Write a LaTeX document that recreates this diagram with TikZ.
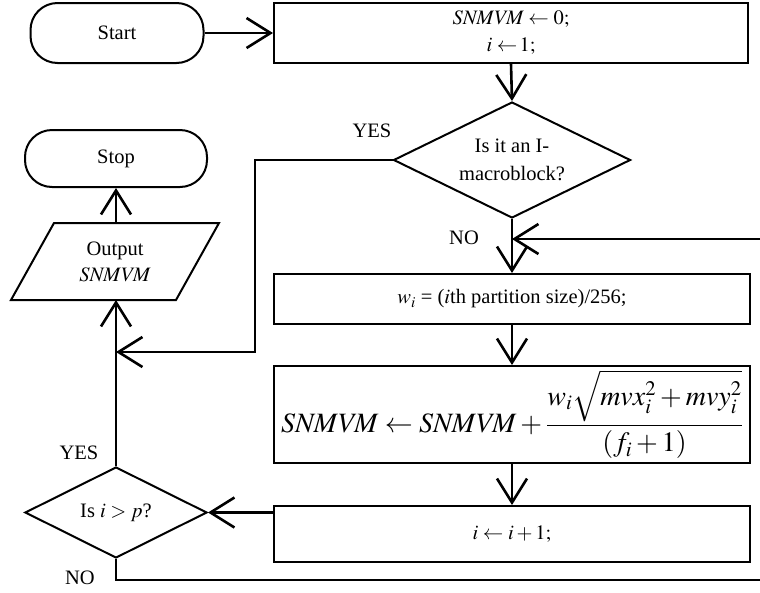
\documentclass[tikz,border=0pt]{standalone}
\usepackage{mathptmx}
\usepackage[no-math]{fontspec}
\setmainfont{Liberation Serif}
\usetikzlibrary{arrows.meta,shapes.geometric}

\newcommand{\snm}{\mathit{SNMVM}}

\tikzset{
  base/.style={draw, line width=2pt, font=\fontsize{20.5}{26}\selectfont, align=center, inner sep=0pt},
  term/.style={base, rectangle, rounded corners=27pt},
  proc/.style={base, rectangle},
  dec/.style={base, diamond},
  iobox/.style={base, draw=none, rectangle},
  ioedge/.style={line width=2pt, line join=miter},
  flow/.style={line width=2.6pt, -{Straight Barb[length=24pt,width=30pt]}},
  tag/.style={font=\fontsize{20.5}{28}\selectfont, align=center, inner sep=0pt}
}

\begin{document}
\begin{tikzpicture}[x=1pt, y=-1pt]
\useasboundingbox (0,0) rectangle (760,592);
\clip (0,0) rectangle (760,592);

% terminals
\node[term, minimum width=173pt, minimum height=60pt] (start) at (117,33) {Start};
\node[term, minimum width=182pt, minimum height=57pt] (stop) at (116,158.5) {Stop};

% initialisation
\node[proc, minimum width=474pt, minimum height=60pt] (init) at (511,33)
  {$\snm \leftarrow 0;$\\[1pt]$i \leftarrow\! 1;$};

% I-macroblock test
\node[dec, minimum width=237pt, minimum height=116pt] (isI) at (512,160) {};
\node[tag] (isItext) at (isI) {Is it an I-\\macroblock?};

% output (parallelogram drawn on the node's box, sides slanted by 43pt)
\node[iobox, minimum width=206pt, minimum height=75pt] (out) at (115,261.5)
  {Output\\$\snm$};
\draw[ioedge] (out.south west) -- ([xshift=43pt]out.north west) -- (out.north east)
  -- ([xshift=-43pt]out.south east) -- cycle;

% processing steps
\node[proc, minimum width=476pt, minimum height=50pt] (wbox) at (512,299)
  {$w_i$ = ($i$th partition size)/256;};
\node[proc, minimum width=476pt, minimum height=97pt, font=\fontsize{28}{32}\selectfont] (sbox) at (512,414.5)
  {$\snm \leftarrow \snm + \displaystyle\frac{w_i\sqrt{mvx_i^2+mvy_i^2}}{(f_i+1)}$};
\node[proc, minimum width=476pt, minimum height=56pt] (ibox) at (512,534)
  {$i \leftarrow i+1;$};

% loop test
\node[dec, minimum width=182pt, minimum height=91pt] (gtp) at (116,512.5) {};
\node[tag] (gtptext) at (gtp) {Is $i>p$?};

% routing points
\coordinate (yesbend) at (255,160);
\coordinate (join) at (116,352);
\coordinate (nobottom) at (116,580);
\coordinate (offright) at (775,580);
\coordinate (offtop) at (775,239);
\coordinate (merge) at (512,239);

% connectors
\draw[flow] (start.east) -- (init.west);
\draw[flow] (init.south) -- (isI.north);
\draw[flow] (isI.west) -- (yesbend) -- (yesbend |- join) -- (join);
\draw[flow] (out.north -| stop.south) -- (stop.south);
\draw[flow] (gtp.north) -- (gtp.north |- out.south);
\draw[flow] (isI.south) -- (wbox.north);
\draw[flow] (wbox.south) -- (sbox.north);
\draw[flow] (sbox.south) -- (ibox.north);
\draw[flow] (ibox.west |- gtp.east) -- (gtp.east);
\draw[flow] (gtp.south) -- (nobottom) -- (offright) -- (offtop) -- (merge);

% branch labels
\node[tag] (yesI) at (372,131) {YES};
\node[tag] (noI) at (464,238) {NO};
\node[tag] (yesP) at (79,453) {YES};
\node[tag] (noP) at (80,578) {NO};
\end{tikzpicture}
\end{document}
